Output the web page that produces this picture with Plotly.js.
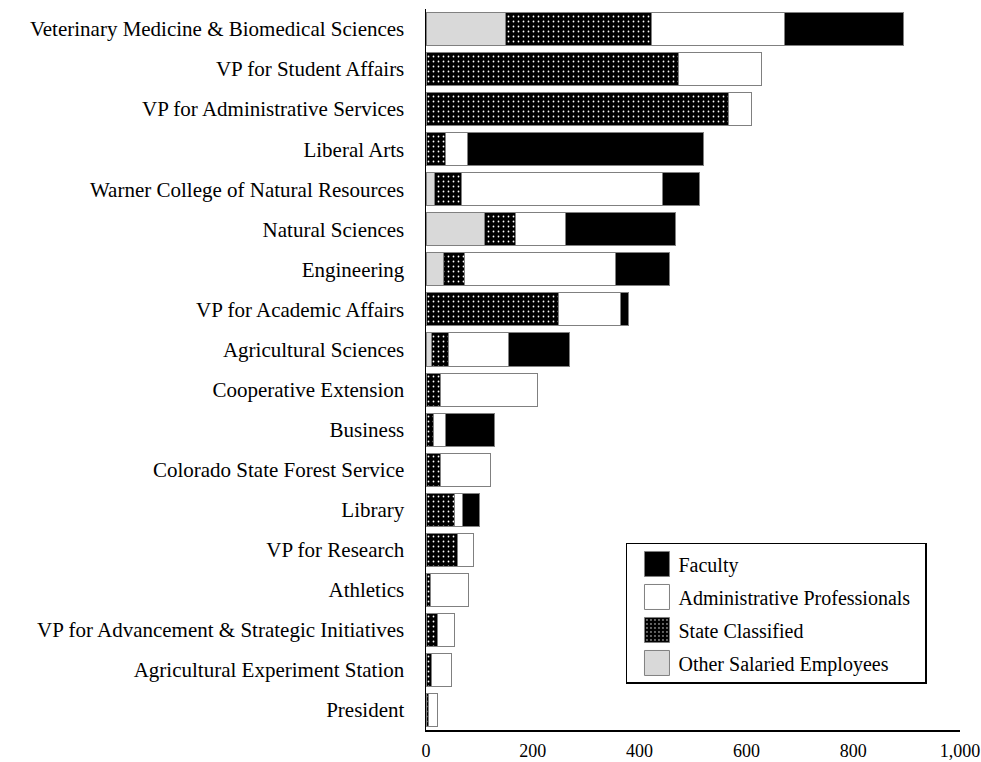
<!DOCTYPE html>
<html>
<head>
<meta charset="utf-8">
<script src="https://cdn.plot.ly/plotly-3.0.1.min.js"></script>
<style>html,body{margin:0;padding:0;background:#fff;}#chart{width:981px;height:762px;}</style>
</head>
<body>
<div id="chart"></div>
<script>
const categories = [
  "Veterinary Medicine & Biomedical Sciences",
  "VP for Student Affairs",
  "VP for Administrative Services",
  "Liberal Arts",
  "Warner College of Natural Resources",
  "Natural Sciences",
  "Engineering",
  "VP for Academic Affairs",
  "Agricultural Sciences",
  "Cooperative Extension",
  "Business",
  "Colorado State Forest Service",
  "Library",
  "VP for Research",
  "Athletics",
  "VP for Advancement & Strategic Initiatives",
  "Agricultural Experiment Station",
  "President"
];
const otherSalaried = [148, 0, 0, 0, 15, 110, 32, 0, 11, 0, 0, 0, 0, 0, 0, 0, 0, 0];
const stateClassified = [275, 472, 567, 37, 52, 57, 41, 248, 32, 28, 14, 27, 54, 59, 9, 21, 10, 4];
const adminProfessionals = [249, 157, 43, 40, 376, 95, 281, 117, 112, 180, 23, 93, 14, 30, 71, 32, 38, 17];
const faculty = [223, 0, 0, 443, 69, 206, 102, 14, 113, 0, 91, 0, 32, 0, 0, 0, 0, 0];
const tickValues = [0, 200, 400, 600, 800, 1000];

const lineStyle = {color: '#808080', width: 1};
const serif = 'Liberation Serif, Times New Roman, serif';

const traces = [
  {name: 'Other Salaried Employees', x: otherSalaried, legendrank: 4, marker: {color: '#d9d9d9', line: lineStyle}},
  {name: 'State Classified', x: stateClassified, legendrank: 3, marker: {color: '#000000', line: lineStyle,
     pattern: {shape: '.', bgcolor: '#000000', fgcolor: '#ffffff', fgopacity: 1, size: 5, solidity: 0.1}}},
  {name: 'Administrative Professionals', x: adminProfessionals, legendrank: 2, marker: {color: '#ffffff', line: lineStyle}},
  {name: 'Faculty', x: faculty, legendrank: 1, marker: {color: '#000000', line: lineStyle}}
].map((t, i) => Object.assign({
  type: 'bar', orientation: 'h', y: categories, legendgroup: 'g' + i, hoverinfo: 'skip'
}, t));

const layout = {
  width: 981, height: 762,
  margin: {l: 426, r: 21, t: 9, b: 32, pad: 0},
  paper_bgcolor: '#ffffff', plot_bgcolor: '#ffffff',
  barmode: 'stack', bargap: 0.175,
  font: {family: serif, color: '#000000'},
  xaxis: {
    range: [0, 1000], tickvals: tickValues, tickformat: ',', showgrid: false, zeroline: false,
    showline: true, linecolor: '#000000', linewidth: 1.5, ticks: '',
    tickfont: {family: serif, size: 18, color: '#000000'}, ticklabelstandoff: 4
  },
  yaxis: {
    type: 'category', range: [17.5, -0.5], showgrid: false, zeroline: false,
    showline: true, linecolor: '#000000', linewidth: 1.5, ticks: '',
    tickfont: {family: serif, size: 21, color: '#000000'}, ticklabelstandoff: 16
  },
  showlegend: true,
  legend: {
    x: 0.3745, y: 0.2594, xanchor: 'left', yanchor: 'top',
    traceorder: 'grouped', tracegroupgap: 4,
    bordercolor: '#000000', borderwidth: 1.5, bgcolor: '#ffffff',
    font: {family: serif, size: 20, color: '#000000'}, itemwidth: 41
  }
};

Plotly.newPlot('chart', traces, layout, {displayModeBar: false, staticPlot: true}).then(() => {
  document.querySelectorAll('.legendpoints path').forEach(p => {
    p.setAttribute('d', 'M16.5,12.5H-8.5V-12.5H16.5Z');
  });
  document.querySelectorAll('.legend rect.bg').forEach(r => {
    const w = parseFloat(r.getAttribute('width'));
    if (isFinite(w)) r.setAttribute('width', w + 10);
  });
});
</script>
</body>
</html>
